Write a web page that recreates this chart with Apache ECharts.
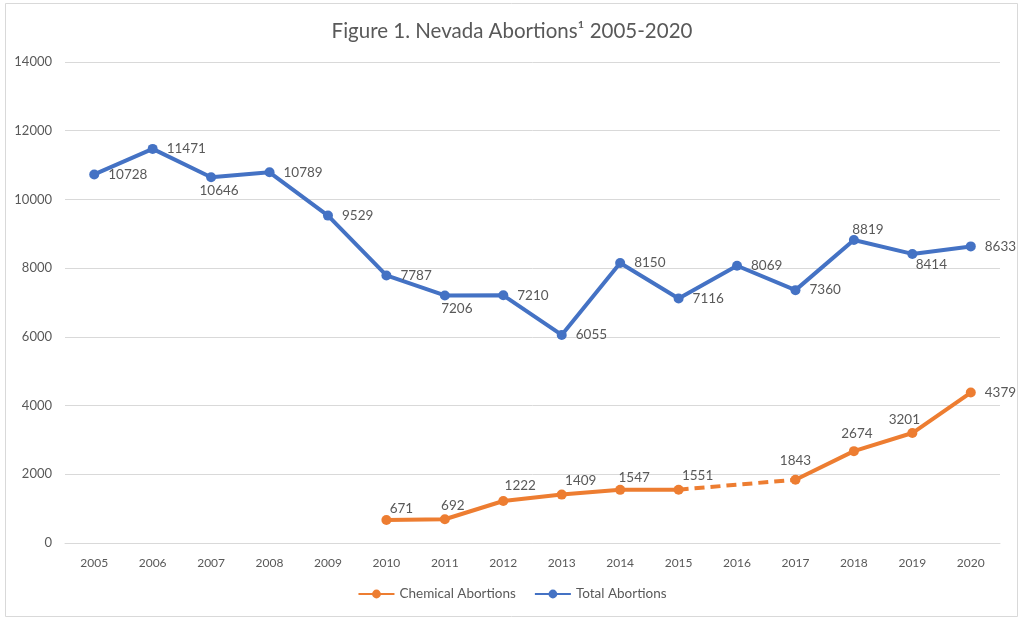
<!DOCTYPE html>
<html>
<head>
<meta charset="utf-8">
<script src="https://cdn.jsdelivr.net/npm/echarts@6/dist/echarts.min.js"></script>
<style>
html,body{margin:0;padding:0;background:#fff;}
#chart{width:1024px;height:621px;}
</style>
</head>
<body>
<div id="chart"></div>
<script>
const years = ['2005','2006','2007','2008','2009','2010','2011','2012','2013','2014','2015','2016','2017','2018','2019','2020'];
const totalAbortions = [10728, 11471, 10646, 10789, 9529, 7787, 7206, 7210, 6055, 8150, 7116, 8069, 7360, 8819, 8414, 8633];
const chemicalAbortions = [null, null, null, null, null, 671, 692, 1222, 1409, 1547, 1551, null, 1843, 2674, 3201, 4379];
const chemicalGap = [null, null, null, null, null, null, null, null, null, null, 1551, null, 1843, null, null, null];
const yTicks = [0, 2000, 4000, 6000, 8000, 10000, 12000, 14000];

const FONT = 'Lato, "Open Sans", sans-serif';
const TXT = '#595959';
const BLUE = '#4472C4';
const ORANGE = '#ED7D31';

// label placement per point (style only)
const totalLabelPos = ['right','right','bottom','right','right','right','bottom','right','right','right','right','right','right','top','bottom','right'];
const totalLabelOff = [[0,0],[0,0],[8,0],[0,0],[0,0],[0,0],[12,0],[0,0],[0,0],[0,0],[0,0],[0,0],[0,0],[14,3],[19,-2],[0,0]];
const chemLabelOff = [[0,0],[0,0],[0,0],[0,0],[0,0],[15,3],[8,0],[17,-1],[19,0],[14,2],[19,0],[0,0],[0,-5],[3,-3],[-8,1],[0,0]];

const totalData = totalAbortions.map((v, i) => ({
  value: v,
  label: { position: totalLabelPos[i], offset: totalLabelOff[i], distance: totalLabelPos[i] === 'right' ? 9 : 1 }
}));
const chemData = chemicalAbortions.map((v, i) => ({
  value: v,
  label: i === 15 ? { position: 'right', distance: 9 } : { position: 'top', offset: chemLabelOff[i], distance: 2 }
}));

const chart = echarts.init(document.getElementById('chart'), null, { renderer: 'canvas' });
chart.setOption({
  animation: false,
  backgroundColor: '#fff',
  textStyle: { fontFamily: FONT, color: TXT },
  graphic: [{
    type: 'rect',
    shape: { x: 5.5, y: 3.5, width: 1012, height: 613 },
    style: { fill: 'none', stroke: '#d9d9d9', lineWidth: 1 },
    silent: true, z: -10
  }],
  title: {
    text: 'Figure 1. Nevada Abortions¹ 2005-2020',
    left: 'center', top: 16,
    textStyle: { fontFamily: FONT, fontSize: 20.5, fontWeight: 'normal', color: TXT }
  },
  legend: {
    bottom: 15, left: 'center',
    data: ['Chemical Abortions', 'Total Abortions'],
    itemWidth: 36, itemHeight: 11, itemGap: 18,
    textStyle: { fontFamily: FONT, fontSize: 13.5, color: TXT }
  },
  grid: { left: 65, right: 24, top: 62, bottom: 78, containLabel: false },
  xAxis: {
    type: 'category', data: years, boundaryGap: true,
    axisLine: { show: true, lineStyle: { color: '#d9d9d9', width: 1 } },
    axisTick: { show: false },
    axisLabel: { color: TXT, fontFamily: FONT, fontSize: 12, margin: 14 }
  },
  yAxis: {
    type: 'value', min: 0, max: 14000, interval: 2000,
    axisLine: { show: false }, axisTick: { show: false },
    splitLine: { lineStyle: { color: '#d9d9d9', width: 1 } },
    axisLabel: { color: TXT, fontFamily: FONT, fontSize: 13, margin: 13,
      formatter: v => yTicks.includes(v) ? String(v) : '' }
  },
  series: [
    {
      name: 'Chemical Abortions (gap)', type: 'line', data: chemicalGap,
      connectNulls: true, showSymbol: false, symbol: 'none',
      lineStyle: { color: ORANGE, width: 4, type: [10, 6] },
      z: 1, silent: true, label: { show: false }
    },
    {
      name: 'Chemical Abortions', type: 'line', data: chemData,
      connectNulls: false,
      symbol: 'circle', symbolSize: 10,
      itemStyle: { color: ORANGE },
      lineStyle: { color: ORANGE, width: 4 },
      label: { show: true, color: TXT, fontFamily: FONT, fontSize: 13.5 },
      z: 3
    },
    {
      name: 'Total Abortions', type: 'line', data: totalData,
      symbol: 'circle', symbolSize: 10,
      itemStyle: { color: BLUE },
      lineStyle: { color: BLUE, width: 4 },
      label: { show: true, color: TXT, fontFamily: FONT, fontSize: 13.5 },
      z: 3
    }
  ]
});
</script>
</body>
</html>
